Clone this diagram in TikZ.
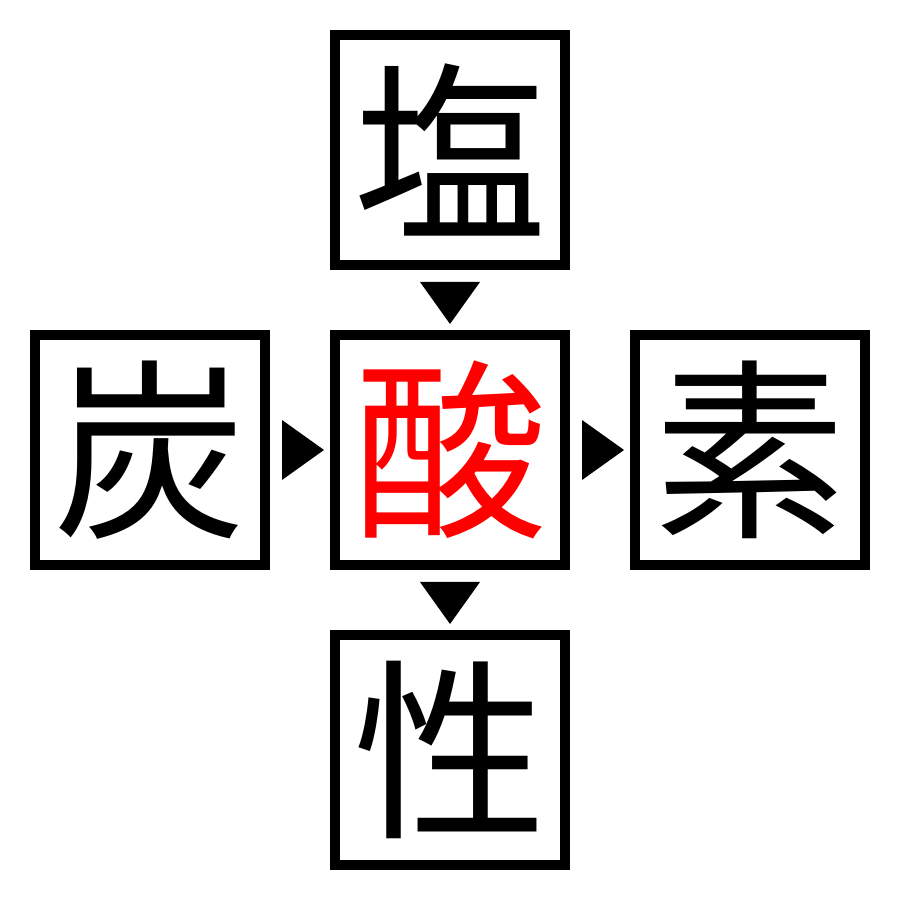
\documentclass[tikz,border=0pt]{standalone}
\usepackage{fontspec}
\newfontfamily\jpfont{Noto Sans CJK JP}
\usetikzlibrary{positioning, calc}

\begin{document}
\begin{tikzpicture}[x=0.3mm, y=0.3mm]
                    \tikzset{kanjibox/.style={draw, line width=3mm, minimum size=69mm, inner sep=0pt,
                        font=\jpfont\fontsize{165pt}{165pt}\selectfont}}
                    \useasboundingbox (0,0) rectangle (900,900);
                    \node[kanjibox, text=red] (san) at (450,450) {酸};
                    \node[kanjibox, above=18mm of san] (shio) {塩};
                    \node[kanjibox, below=18mm of san] (sei) {性};
                    \node[kanjibox, left=18mm of san] (tan) {炭};
                    \node[kanjibox, right=18mm of san] (so) {素};
                        \foreach \a/\b in {shio/san, san/sei} {
                            \fill ($(\a.south)+(-30,-12)$) -- ++(60,0) -- ($(\b.north)+(0,6)$) -- cycle;
                        }
                        \foreach \a/\b in {tan/san, san/so} {
                            \fill ($(\a.east)+(12,30)$) -- ++(0,-60) -- ($(\b.west)+(-6,0)$) -- cycle;
                        }
                \end{tikzpicture}
\end{document}
